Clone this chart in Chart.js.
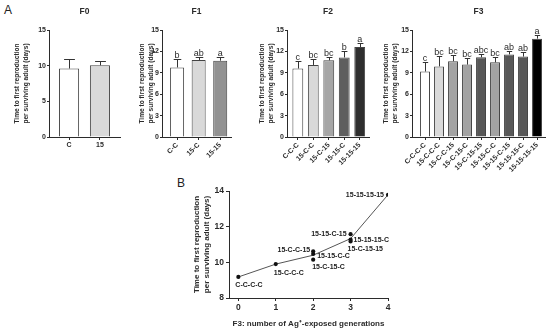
<!DOCTYPE html>
<html lang="en">
<head>
<meta charset="UTF-8">
<title>Time to first reproduction</title>
<script src="https://cdn.jsdelivr.net/npm/chart.js"></script>
<style>
  body { margin: 0; background: #fff; font-family: "Liberation Sans", Arial, sans-serif; }
  #wrap { position: relative; width: 550px; height: 332px; overflow: hidden; }
  canvas { position: absolute; }
  .tag { position: absolute; font-size: 12px; color: #222; line-height: 12px; }
</style>
</head>
<body>
<div id="wrap">
  <div class="tag" style="left:4px;top:4px">A</div>
  <div class="tag" style="left:177px;top:177px">B</div>
  <canvas id="f0" width="125" height="172" style="left:0;top:0"></canvas>
  <canvas id="f1" width="110" height="172" style="left:125px;top:0"></canvas>
  <canvas id="f2" width="125" height="172" style="left:245px;top:0"></canvas>
  <canvas id="f3" width="181" height="172" style="left:369px;top:0"></canvas>
  <canvas id="pb" width="250" height="160" style="left:170px;top:172px"></canvas>
</div>
<script>
// values (mean, SD above the bar)
const f0Labels = ['C', '15'];
const f0Means = [9.6, 10.05];
const f0Sd = [1.3, 0.55];

const f1Labels = ['C-C', '15-C', '15-15'];
const f1Means = [9.75, 10.8, 10.7];
const f1Sd = [1.2, 0.45, 0.5];
const f1Letters = ['b', 'ab', 'a'];

const f2Labels = ['C-C-C', '15-C-C', '15-C-15', '15-15-C', '15-15-15'];
const f2Means = [9.6, 10.1, 10.75, 11.15, 12.6];
const f2Sd = [1.1, 0.9, 0.5, 0.95, 0.55];
const f2Letters = ['c', 'bc', 'bc', 'b', 'a'];

const f3Labels = ['C-C-C-C', '15-C-C-C', '15-C-C-15', '15-C-15-C', '15-C-15-15',
                  '15-15-C-C', '15-15-C-15', '15-15-15-C', '15-15-15-15'];
const f3Means = [9.18, 9.9, 10.62, 10.15, 11.17, 10.47, 11.58, 11.27, 13.79];
const f3Sd = [1.32, 1.4, 0.88, 0.9, 0.48, 0.78, 0.52, 0.58, 0.46];
const f3Letters = ['c', 'bc', 'bc', 'bc', 'abc', 'bc', 'ab', 'ab', 'a'];

// panel B: exposed generations per F3 group, and the trend line through group means
const bGenerations = [0, 1, 2, 2, 3, 2, 3, 3, 4];
const bTrendX = [0, 1, 2, 3, 4];
const bTrendY = [9.18, 9.9, 10.4, 11.33, 13.79];
const bXTicks = [0, 1, 2, 3, 4];

// styling
const f0Fill = ['#ffffff', '#d9d9d9'];
const f1Fill = ['#ffffff', '#d9d9d9', '#929292'];
const f2Fill = ['#ffffff', '#d9d9d9', '#a6a6a6', '#5e5e5e', '#2e2e2e'];
const f3Fill = ['#ffffff', '#d9d9d9', '#a3a3a3', '#a3a3a3', '#585858', '#a3a3a3', '#585858', '#585858', '#000000'];
// where each B label sits next to its point: [align, dx, dy]
const bLabelPlace = [['left', -3, 8], ['left', -2, 9], ['right', -3, -1], ['left', -1, 7], ['left', -3, 8],
                     ['left', 4, 2], ['right', -4, 0], ['left', 3, 0], ['right', -4, 0]];

const FONT = '"Liberation Sans", Arial, sans-serif';
const INK = '#2b2b2b';
const YTITLE = ['Time to first reproduction', 'per surviving adult (days)'];

function panelTitle(text) {
  return {
    id: 'panelTitle',
    afterDraw(chart) {
      const {ctx, chartArea} = chart;
      ctx.save();
      ctx.font = 'bold 8.5px ' + FONT;
      ctx.fillStyle = INK;
      ctx.textAlign = 'center';
      ctx.textBaseline = 'middle';
      ctx.fillText(text, (chartArea.left + chartArea.right) / 2, 12);
      ctx.restore();
    }
  };
}

function errorBars(means, sd, letters) {
  return {
    id: 'errorBars',
    afterDatasetsDraw(chart) {
      const ctx = chart.ctx;
      const y = chart.scales.y;
      const bars = chart.getDatasetMeta(0).data;
      ctx.save();
      ctx.strokeStyle = '#333';
      ctx.lineWidth = 1;
      ctx.fillStyle = INK;
      ctx.font = '9px ' + FONT;
      ctx.textAlign = 'center';
      ctx.textBaseline = 'bottom';
      bars.forEach((bar, i) => {
        const top = Math.round(y.getPixelForValue(means[i] + sd[i])) + 0.5;
        const x = Math.round(bar.x) + 0.5;
        const half = bar.width * 0.27;
        ctx.beginPath();
        ctx.moveTo(x, bar.y);
        ctx.lineTo(x, top);
        ctx.moveTo(x - half, top);
        ctx.lineTo(x + half, top);
        ctx.stroke();
        if (letters) ctx.fillText(letters[i], bar.x, top + 0.5);
      });
      ctx.restore();
    }
  };
}

// bars sit on a numeric x axis so the gap before the first bar can match the original
function barPanel(id, name, labels, means, sd, letters, fills, look) {
  new Chart(document.getElementById(id), {
    type: 'bar',
    data: {
      datasets: [{
        data: means.map((m, i) => ({ x: i, y: m })),
        backgroundColor: fills,
        borderColor: '#444',
        borderWidth: 1,
        barPercentage: look.bar,
        categoryPercentage: 1
      }]
    },
    options: {
      responsive: false,
      animation: false,
      layout: { padding: { top: 30, right: look.padRight, left: 0, bottom: 0 } },
      plugins: { legend: { display: false }, tooltip: { enabled: false } },
      scales: {
        x: {
          type: 'linear', offset: false,
          min: look.xMin, max: labels.length - 1 + look.xEnd,
          afterBuildTicks: s => { s.ticks = labels.map((_, i) => ({ value: i })); },
          ticks: {
            callback: v => labels[v],
            font: { family: FONT, size: 7, weight: 'bold' }, color: INK,
            minRotation: look.rot, maxRotation: look.rot, autoSkip: false, padding: 1
          },
          grid: { offset: false, drawOnChartArea: false, tickLength: 3, color: INK },
          border: { color: INK, width: 1 },
          afterFit: s => { s.height = 35; }
        },
        y: {
          min: 0, max: 15,
          ticks: { stepSize: look.step, font: { family: FONT, size: 7, weight: 'bold' }, color: INK, padding: 1 },
          grid: { drawOnChartArea: false, tickLength: 2, color: INK },
          border: { color: INK, width: 1 },
          title: {
            display: true, text: YTITLE, color: INK,
            font: { family: FONT, size: 6.6, weight: 'bold', lineHeight: 1.45 },
            padding: { top: 12, bottom: 0 }
          },
          afterFit: s => { s.width = look.axisW; }
        }
      }
    },
    plugins: [panelTitle(name), errorBars(means, sd, letters)]
  });
}

barPanel('f0', 'F0', f0Labels, f0Means, f0Sd, null, f0Fill,
  { bar: 0.65, rot: 0, step: 5, axisW: 49, padRight: 5, xMin: -0.65, xEnd: 0.65 });
barPanel('f1', 'F1', f1Labels, f1Means, f1Sd, f1Letters, f1Fill,
  { bar: 0.65, rot: 45, step: 3, axisW: 37, padRight: 4, xMin: -0.7, xEnd: 0.5 });
barPanel('f2', 'F2', f2Labels, f2Means, f2Sd, f2Letters, f2Fill,
  { bar: 0.7, rot: 45, step: 3, axisW: 42, padRight: 1, xMin: -0.7, xEnd: 0.6 });
barPanel('f3', 'F3', f3Labels, f3Means, f3Sd, f3Letters, f3Fill,
  { bar: 0.71, rot: 45, step: 3, axisW: 43, padRight: 5, xMin: -0.93, xEnd: 0.57 });

const pointLabels = {
  id: 'pointLabels',
  afterDatasetsDraw(chart) {
    const ctx = chart.ctx;
    const pts = chart.getDatasetMeta(0).data;
    ctx.save();
    ctx.font = 'bold 7px ' + FONT;
    ctx.fillStyle = '#222';
    ctx.textBaseline = 'middle';
    pts.forEach((p, i) => {
      const [align, dx, dy] = bLabelPlace[i];
      ctx.textAlign = align;
      ctx.fillText(f3Labels[i], p.x + dx, p.y + dy);
    });
    ctx.restore();
  }
};

new Chart(document.getElementById('pb'), {
  type: 'scatter',
  data: {
    datasets: [
      {
        data: bGenerations.map((g, i) => ({ x: g, y: f3Means[i] })),
        backgroundColor: '#111', borderColor: '#111', pointRadius: 2.1, pointBorderWidth: 0
      },
      {
        type: 'line',
        data: bTrendX.map((g, i) => ({ x: g, y: bTrendY[i] })),
        borderColor: '#555', borderWidth: 1, pointRadius: 0, fill: false, tension: 0
      }
    ]
  },
  options: {
    responsive: false,
    animation: false,
    layout: { padding: { top: 19, right: 32, left: 0, bottom: 0 } },
    plugins: { legend: { display: false }, tooltip: { enabled: false } },
    scales: {
      x: {
        type: 'linear', min: -0.25, max: 4,
        afterBuildTicks: s => { s.ticks = bXTicks.map(v => ({ value: v })); },
        ticks: { font: { family: FONT, size: 8.5, weight: 'bold' }, color: INK, padding: 2 },
        grid: { drawOnChartArea: false, tickLength: 3, color: INK },
        border: { color: INK, width: 1 },
        title: {
          display: true, text: 'F3: number of Ag\u207A-exposed generations', color: INK,
          font: { family: FONT, size: 8, weight: 'bold', lineHeight: 1.25 },
          padding: { top: 2, bottom: 3 }
        },
        afterFit: s => { s.height = 34; }
      },
      y: {
        min: 8, max: 14,
        ticks: { stepSize: 2, font: { family: FONT, size: 8.5, weight: 'bold' }, color: INK, padding: 2 },
        grid: { drawOnChartArea: false, tickLength: 3, color: INK },
        border: { color: INK, width: 1 },
        title: {
          display: true, text: YTITLE, color: INK,
          font: { family: FONT, size: 8, weight: 'bold', lineHeight: 1.25 },
          padding: { top: 22, bottom: 0 }
        },
        afterFit: s => { s.width = 59; }
      }
    }
  },
  plugins: [pointLabels]
});
</script>
</body>
</html>
